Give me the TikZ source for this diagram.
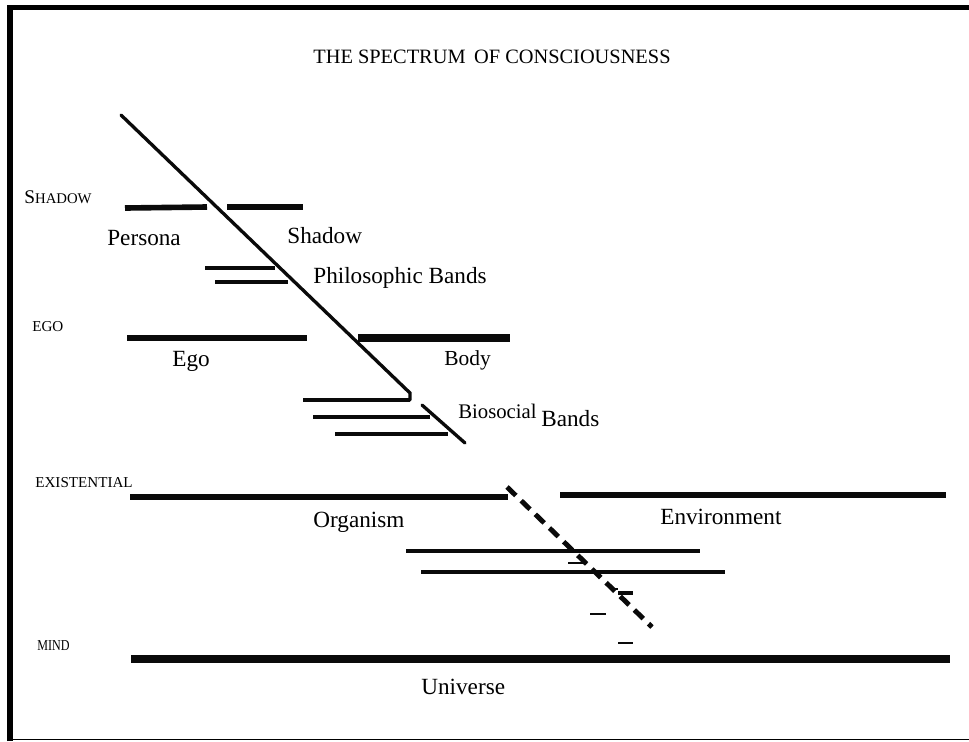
\documentclass[tikz,border=0pt]{standalone}
\usepackage{fontspec}
\setmainfont{Liberation Serif}
\usepackage{tikz}
\usetikzlibrary{positioning, calc}
\definecolor{inkblack}{RGB}{10, 10, 10}
\tikzset{
  band/.style = {draw=inkblack, line width=#1, line cap=butt},
  band/.default = 3.6pt,
  thinband/.style = {draw=inkblack, line width=#1, line cap=butt},
  thinband/.default = 2pt,
  axisline/.style = {draw=inkblack, line width=1.9pt, line cap=round},
  dashaxis/.style = {draw=inkblack, line width=2.8pt, line cap=butt,
                     dash pattern=on 7pt off 4.2pt},
  tick/.style = {draw=inkblack, line width=0.7pt},
  lbl/.style = {font=\fontsize{13.2}{15}\selectfont, anchor=base west, inner sep=0pt},
  lvl/.style = {font=\fontsize{8.6}{10}\selectfont, anchor=base west, inner sep=0pt},
  ttl/.style = {font=\fontsize{11.6}{14}\selectfont, anchor=base west, inner sep=0pt},
}

\begin{document}
\begin{tikzpicture}[x=0.02cm, y=-0.02cm]

  \useasboundingbox (0,0) rectangle (969,741);

  %% frame
  \draw[line width=3.4pt] (10,741) -- (10,5);
  \draw[line width=2.8pt] (7,7.5) -- (969,7.5);
  \draw[line width=1pt] (10,739.5) -- (969,739.5);

  %% title
  \node[ttl] (title) at (313,63) {THE SPECTRUM \,OF CONSCIOUSNESS};

  %% level names
  \node[lvl] (lvshadow) at (24,203)
    {\fontsize{11}{12}\selectfont S\fontsize{8.4}{10}\selectfont HADOW};
  \node[lvl] (lvego)   at (32,331) {EGO};
  \node[lvl] (lvexist) at (35,487) {EXISTENTIAL};
  \node[lvl, xscale=0.8] (lvmind) at (37,650) {MIND};

  %% coordinates of the bands
  \coordinate (pa) at (125,208);  \coordinate (pb) at (207,207);
  \coordinate (sa) at (227,207);  \coordinate (sb) at (303,207);
  \coordinate (ph1a) at (205,268); \coordinate (ph1b) at (275,268);
  \coordinate (ph2a) at (215,282); \coordinate (ph2b) at (288,282);
  \coordinate (ea) at (127,338);  \coordinate (eb) at (307,338);
  \coordinate (ba) at (358,338);  \coordinate (bb) at (510,338);
  \coordinate (bs1a) at (303,400); \coordinate (bs1b) at (410,400);
  \coordinate (bs2a) at (313,417); \coordinate (bs2b) at (430,417);
  \coordinate (bs3a) at (335,434); \coordinate (bs3b) at (448,434);
  \coordinate (oa) at (130,497);  \coordinate (ob) at (508,497);
  \coordinate (ena) at (560,495); \coordinate (enb) at (946,495);
  \coordinate (m1a) at (406,551); \coordinate (m1b) at (700,551);
  \coordinate (m2a) at (421,572); \coordinate (m2b) at (725,572);
  \coordinate (ua) at (131,659);  \coordinate (ub) at (950,659);

  %% bands
  \draw[band=3.2pt] (pa) -- (pb);
  \draw[band=3.2pt] (sa) -- (sb);
  \draw[thinband] (ph1a) -- (ph1b);
  \draw[thinband] (ph2a) -- (ph2b);
  \draw[band] (ea) -- (eb);
  \draw[band=4pt] (ba) -- (bb);
  \draw[thinband=2.2pt] (bs1a) -- (bs1b);
  \draw[thinband=2.4pt] (bs2a) -- (bs2b);
  \draw[thinband=2.2pt] (bs3a) -- (bs3b);
  \draw[band=3.8pt] (oa) -- (ob);
  \draw[band=3.8pt] (ena) -- (enb);
  \draw[thinband=2.2pt] (m1a) -- (m1b);
  \draw[thinband=2.2pt] (m2a) -- (m2b);
  \draw[band=4.4pt] (ua) -- (ub);

  %% dividing lines
  \coordinate (d1a) at (121,115); \coordinate (d1b) at (410,393);
  \coordinate (d2a) at (422,405); \coordinate (d2b) at (465,443);
  \coordinate (d3a) at (507,487); \coordinate (d3b) at (652,627);
  \draw[axisline] (d1a) -- (d1b) -- (bs1b);
  \draw[axisline] (d2a) -- (d2b);
  \draw[dashaxis] (d3a) -- (d3b);
  \draw[band=2.8pt] (618,593) -- (633,593);

  %% small ticks
  \draw[tick] (568,563) -- (585,563);
  \draw[tick] (610,589) -- (618,589);
  \draw[tick] (590,614) -- (606,614);
  \draw[tick] (618,643) -- (633,643);

  %% band labels
  \node[lbl] (persona)  at (107,245) {Persona};
  \node[lbl] (shadow)   at (287,243) {Shadow};
  \node[lbl] (philo)    at (313,283) {Philosophic Bands};
  \node[lbl] (ego)      at (172,366) {Ego};
  \node[lbl, font=\fontsize{12.2}{14}\selectfont] (body) at (444,365) {Body};
  \node[lbl, font=\fontsize{11.8}{14}\selectfont] (biosoc) at (458,418) {Biosocial};
  \node[lbl] (bands)    at (541,426) {Bands};
  \node[lbl] (organism) at (313,527) {Organism};
  \node[lbl] (environ)  at (660,524) {Environment};
  \node[lbl] (universe) at (421,694) {Universe};

\end{tikzpicture}
\end{document}
